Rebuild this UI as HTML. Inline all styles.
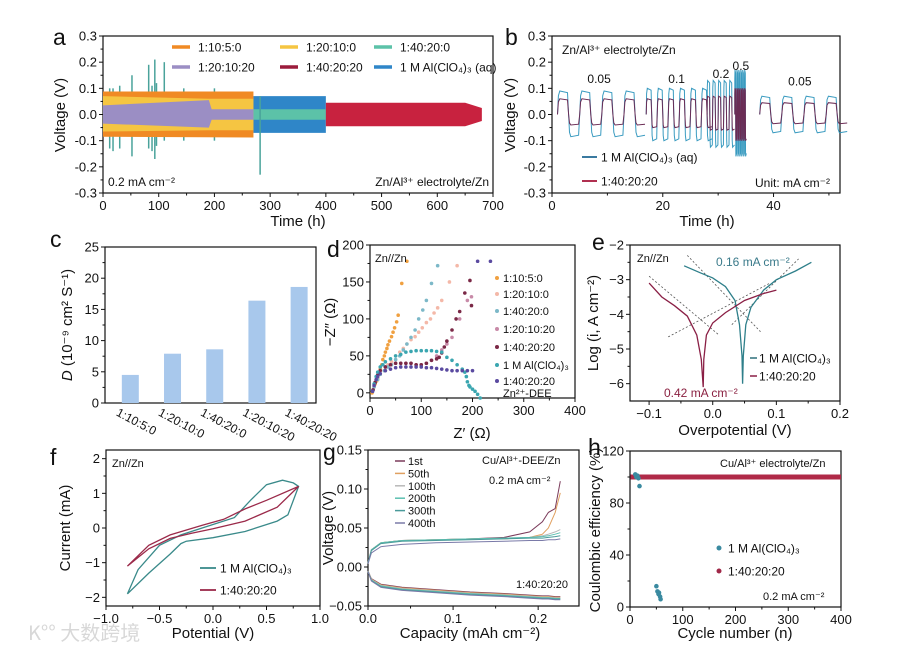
<!DOCTYPE html>
<html><head><meta charset="utf-8">
<style>
html,body{margin:0;padding:0;background:#fff;}
svg{display:block;font-family:"Liberation Sans","Noto Sans CJK SC",sans-serif;}
.tk{font-size:13px;fill:#111;}
.tt{font-size:15px;fill:#111;}
.an{font-size:12px;fill:#111;}
.lg{font-size:12px;fill:#111;}
.pl{font-size:23px;fill:#111;}
</style></head>
<body>
<svg id="fig" width="900" height="650" viewBox="0 0 900 650" xmlns="http://www.w3.org/2000/svg">
<text x="28" y="640" style="font-size:20px;fill:#d8d8d8;font-family:'Noto Sans CJK SC',sans-serif">K°° 大数跨境</text>
</svg>
<script>
// ---------- panel a data ----------
const aT_orange=[0,270]; const aHi_orange=[0.088,0.088]; const aLo_orange=[-0.085,-0.088];
const aT_yellow=[0,190,270]; const aHi_yellow=[0.07,0.06,0.06]; const aLo_yellow=[-0.065,-0.06,-0.06];
const aT_purple=[0,190,195,270]; const aHi_purple=[0.035,0.055,0.02,0.02]; const aLo_purple=[-0.035,-0.05,-0.02,-0.02];
const aT_blue=[270,400]; const aHi_blue=[0.07,0.07]; const aLo_blue=[-0.07,-0.07];
const aT_teal=[270,400]; const aHi_teal=[0.02,0.02]; const aLo_teal=[-0.02,-0.02];
const aT_red=[400,650,680]; const aHi_red=[0.045,0.045,0.025]; const aLo_red=[-0.045,-0.045,-0.025];
const aSpikeT=[12,18,30,52,82,88,93,96,110,145,200,282];
const aSpikeHi=[0.1,0.1,0.11,0.15,0.19,0.11,0.21,0.12,0.2,0.1,0.1,0.07];
const aSpikeLo=[-0.13,-0.14,-0.13,-0.16,-0.13,-0.14,-0.17,-0.12,-0.1,-0.1,-0.1,-0.23];
// ---------- panel b data ----------
const bSegStart=[1,17,28,33,37.5]; const bSegEnd=[16,28,33,35.2,52];
const bPeriod=[4,2,1,0.35,4];
const bBlueHi=[0.09,0.1,0.13,0.17,0.07]; const bBlueLo=[-0.085,-0.1,-0.125,-0.16,-0.07];
const bRedHi=[0.06,0.06,0.07,0.1,0.045]; const bRedLo=[-0.04,-0.05,-0.06,-0.1,-0.035];
const bRateLabels=["0.05","0.1","0.2","0.5","0.05"];
// ---------- panel c data ----------
const cCats=["1:10:5:0","1:20:10:0","1:40:20:0","1:20:10:20","1:40:20:20"];
const cVals=[4.5,7.9,8.6,16.4,18.6];
// ---------- panel d data ----------
const dX1=[4,6,8,10,13,15,18,20,23,25,28,30,33,35,38,42,45,48,52,55,62,72]; const dY1=[0,4,8,12,16,20,26,32,38,45,50,55,60,65,70,76,82,88,96,105,148,178];
const dX2=[8,15,20,28,35,42,50,58,65,72,80,88,95,102,110,118,125,132,140,155,170]; const dY2=[8,18,25,30,38,42,50,55,60,66,72,76,82,88,95,100,108,115,125,150,172];
const dX3=[8,15,20,28,35,42,50,58,65,72,80,88,95,103,110,120,132]; const dY3=[8,18,25,30,35,38,45,50,58,66,75,85,100,112,125,148,172];
const dX4=[6,10,15,20,30,40,50,60,70,80,90,100,110,120,130,140,150,160,175,190,198]; const dY4=[4,14,24,30,35,38,40,40,40,40,38,38,40,44,50,58,66,75,100,125,130];
const dX5=[6,10,15,20,30,40,50,60,70,80,90,100,110,120,130,135,140,145,150,160,168,175,185,195,198]; const dY5=[4,14,24,30,35,38,40,40,40,40,38,38,40,44,46,48,54,62,70,85,100,110,135,152,118];
const dX6=[5,8,12,15,20,25,30,40,50,60,70,80,90,100,110,120,130,140,150,160,170,180,185,188,190,193,195,200,205,210,215]; const dY6=[2,12,22,28,35,38,42,46,50,52,55,56,57,57,57,57,56,55,48,44,38,32,28,22,15,10,8,5,2,-2,-7];
const dX7=[5,8,12,15,20,30,40,50,60,70,80,90,100,110,120,130,140,150,160,170,180,190,200,210,235]; const dY7=[2,10,18,22,26,30,32,34,35,35,35,35,35,34,34,33,32,31,30,30,30,30,30,178,178];
// ---------- panel e data ----------
const eBlueX=[-0.045,-0.02,0,0.02,0.035,0.042,0.046,0.047,0.048,0.052,0.06,0.08,0.1,0.13,0.155];
const eBlueY=[-2.6,-2.8,-2.95,-3.2,-3.6,-4.3,-5.2,-6.0,-5.2,-4.3,-3.8,-3.3,-3.0,-2.75,-2.5];
const eRedX=[-0.1,-0.08,-0.06,-0.04,-0.025,-0.018,-0.016,-0.015,-0.014,-0.01,0,0.02,0.05,0.08,0.1];
const eRedY=[-3.1,-3.5,-3.75,-4.05,-4.6,-5.3,-5.8,-6.1,-5.3,-4.6,-4.25,-3.95,-3.6,-3.4,-3.3];
const eDashX1=[[-0.04,0.075],[0.03,0.135],[-0.1,0.01],[-0.07,0.09]];
const eDashY1=[[-2.3,-4.5],[-4.3,-2.4],[-2.9,-4.6],[-4.65,-3.1]];
// ---------- panel f data ----------
const fBlueX=[-0.8,-0.6,-0.4,-0.3,-0.25,0,0.3,0.6,0.7,0.8,0.75,0.65,0.5,0.35,0.2,0,-0.3,-0.5,-0.7,-0.8];
const fBlueY=[-1.9,-1.3,-0.75,-0.45,-0.38,-0.28,-0.1,0.2,0.38,1.2,1.3,1.38,1.25,0.8,0.3,0.1,-0.2,-0.5,-1.2,-1.9];
const fRedX=[-0.8,-0.6,-0.4,-0.2,0,0.3,0.6,0.8,0.5,0.3,0.1,-0.1,-0.4,-0.6,-0.8];
const fRedY=[-1.1,-0.6,-0.3,-0.15,-0.02,0.2,0.6,1.2,0.8,0.55,0.25,0.08,-0.2,-0.5,-1.1];
// ---------- panel g data ----------
const gCap=[0,0.004,0.015,0.04,0.08,0.12,0.16,0.19,0.205,0.212,0.22,0.226];
const gNames=["1st","50th","100th","200th","300th","400th"];
const gC1=[0.005,0.022,0.031,0.034,0.035,0.036,0.038,0.045,0.058,0.07,0.075,0.11];
const gC50=[0.005,0.022,0.031,0.034,0.035,0.036,0.036,0.038,0.042,0.05,0.07,0.095];
const gC100=[0.005,0.022,0.031,0.034,0.035,0.036,0.037,0.038,0.04,0.042,0.045,0.048];
const gC200=[0.005,0.022,0.031,0.034,0.035,0.036,0.037,0.038,0.039,0.04,0.042,0.044];
const gC300=[0.005,0.021,0.03,0.033,0.034,0.035,0.036,0.037,0.037,0.038,0.039,0.04];
const gC400=[0.004,0.018,0.026,0.029,0.031,0.032,0.033,0.034,0.034,0.035,0.035,0.036];
const gD1=[-0.005,-0.015,-0.022,-0.026,-0.029,-0.032,-0.034,-0.036,-0.037,-0.037,-0.038,-0.038];
const gD400=[-0.006,-0.018,-0.026,-0.03,-0.033,-0.036,-0.038,-0.04,-0.041,-0.041,-0.042,-0.042];
// ---------- panel h data ----------
const hRedN=[1,400]; const hRedV=[100,100];
const hBlueN=[10,12,14,16,18,50,52,54,55,57,58]; const hBlueV=[102,100,101,99,93,16,12,10,11,8,6];

const NS="http://www.w3.org/2000/svg";
const svg=document.getElementById('fig');
function mk(tag,attrs,parent,text){const e=document.createElementNS(NS,tag);for(const k in attrs)e.setAttribute(k,attrs[k]);if(text!==undefined)e.textContent=text;(parent||svg).appendChild(e);return e;}
function grp(name){const g=mk('g',{});return g;}
function axes(name,fr,xr,yr,xt,yt,xfmt,yfmt,xminor,yminor){
  const g=grp(name);
  const sx=v=>fr[0]+(v-xr[0])/(xr[1]-xr[0])*(fr[1]-fr[0]);
  const sy=v=>fr[3]-(v-yr[0])/(yr[1]-yr[0])*(fr[3]-fr[2]);
  const r=mk('rect',{x:fr[0],y:fr[2],width:fr[1]-fr[0],height:fr[3]-fr[2],fill:'none',stroke:'#111','stroke-width':1.2},g);
  
  
  xt.forEach(v=>{const x=sx(v);mk('line',{x1:x,x2:x,y1:fr[3],y2:fr[3]+4,stroke:'#111'},g);
    if(xfmt){const t=mk('text',{x:x,y:fr[3]+17,'text-anchor':'middle',class:'tk'},g,xfmt(v));}});
  (xminor||[]).forEach(v=>{const x=sx(v);mk('line',{x1:x,x2:x,y1:fr[3],y2:fr[3]+2.5,stroke:'#111'},g);});
  yt.forEach(v=>{const y=sy(v);mk('line',{x1:fr[0]-4,x2:fr[0],y1:y,y2:y,stroke:'#111'},g);
    const t=mk('text',{x:fr[0]-6,y:y+4.5,'text-anchor':'end',class:'tk'},g,yfmt(v));});
  (yminor||[]).forEach(v=>{const y=sy(v);mk('line',{x1:fr[0]-2.5,x2:fr[0],y1:y,y2:y,stroke:'#111'},g);});
  return {g,sx,sy};
}
function txt(x,y,s,cls,name,extra){const t=mk('text',Object.assign({x:x,y:y,class:cls},extra||{}),svg);t.innerHTML=s;return t;}
function ytitle(x,y,s,name){return txt(0,0,s,'tt',name,{transform:`translate(${x},${y}) rotate(-90)`,'text-anchor':'middle'});}
function poly(g,xs,ys,A,attrs,name){const pts=xs.map((v,i)=>A.sx(v).toFixed(1)+','+A.sy(ys[i]).toFixed(1)).join(' ');const p=mk('polyline',Object.assign({points:pts,fill:'none'},attrs),g);return p;}
function band(g,ts,hi,lo,A,fill,name){const up=ts.map((t,i)=>A.sx(t)+','+A.sy(hi[i]));const dn=ts.map((t,i)=>A.sx(t)+','+A.sy(lo[i])).reverse();const p=mk('polygon',{points:up.concat(dn).join(' '),fill:fill},g);}
const fmt1=v=>v.toFixed(1), fmt0=v=>String(v), fmt2=v=>v.toFixed(2);
const minus=s=>s.replace('-','\u2212');

// ================= panel a =================
txt(53,45,'a','pl','panel-label-a');
const A=axes('panel-a',[103,493,36,193],[0,700],[-0.3,0.3],[0,100,200,300,400,500,600,700],[-0.3,-0.2,-0.1,0,0.1,0.2,0.3],fmt0,fmt1,[50,150,250,350,450,550,650],[-0.25,-0.15,-0.05,0.05,0.15,0.25]);
band(A.g,aT_blue,aHi_blue,aLo_blue,A,'#2f86c8','band-1m-aq');
band(A.g,aT_teal,aHi_teal,aLo_teal,A,'#5cc2a8','band-1-40-20-0');
aSpikeT.forEach((t,i)=>{const l=mk('line',{x1:A.sx(t),x2:A.sx(t),y1:A.sy(aSpikeHi[i]),y2:A.sy(aSpikeLo[i]),stroke:'#4aa39b','stroke-width':1.5},A.g);});
band(A.g,aT_orange,aHi_orange,aLo_orange,A,'#f08a24','band-1-10-5-0');
band(A.g,aT_yellow,aHi_yellow,aLo_yellow,A,'#f5c542','band-1-20-10-0');
band(A.g,aT_purple,aHi_purple,aLo_purple,A,'#9b8ec4','band-1-20-10-20');
band(A.g,aT_red,aHi_red,aLo_red,A,'#c8223f','band-1-40-20-20');
[['1:10:5:0','#f08a24',172,47],['1:20:10:0','#f5c542',280,47],['1:40:20:0','#5cc2a8',374,47],['1:20:10:20','#9b8ec4',172,67],['1:40:20:20','#9b1c3c',280,67],['1 M Al(ClO₄)₃ (aq)','#2f86c8',374,67]].forEach(e=>{
  const l=mk('line',{x1:e[2],x2:e[2]+18,y1:e[3],y2:e[3],stroke:e[1],'stroke-width':3.5});
  txt(e[2]+26,e[3]+4.5,e[0],'lg','legend-entry');});
txt(108,186,'0.2 mA cm⁻²','an','current-density-note');
txt(489,186,'Zn/Al³⁺ electrolyte/Zn','an','cell-note',{'text-anchor':'end'});
ytitle(65,115,'Voltage (V)','y-axis-title-a');
txt(298,226,'Time (h)','tt','x-axis-title-a',{'text-anchor':'middle'});

// ================= panel b =================
txt(505,45,'b','pl','panel-label-b');
const B=axes('panel-b',[552,840,36,193],[0,52],[-0.3,0.3],[0,20,40],[-0.3,-0.2,-0.1,0,0.1,0.2,0.3],fmt0,fmt1,[10,30,50],[-0.25,-0.15,-0.05,0.05,0.15,0.25]);
function wave(hiArr,loArr){const xs=[],ys=[];
  bSegStart.forEach((s,k)=>{const P=bPeriod[k];for(let t=s;t+P/2<=bSegEnd[k]+0.01;t+=P){
    xs.push(t,t+0.04*P,t+0.1*P,t+0.45*P,t+0.5*P,t+0.54*P,t+0.6*P,t+0.95*P);
    ys.push(0,hiArr[k]*0.8,hiArr[k],hiArr[k]*0.93,0,loArr[k]*0.8,loArr[k],loArr[k]*0.93);}
    xs.push(NaN);ys.push(NaN);});
  return [xs,ys];}
function polySeg(g,xs,ys,A,attrs,name){let cx=[],cy=[];for(let i=0;i<=xs.length;i++){if(i==xs.length||isNaN(xs[i])){if(cx.length)poly(g,cx,cy,A,attrs,name);cx=[];cy=[];}else{cx.push(xs[i]);cy.push(ys[i]);}}}
let wb=wave(bBlueHi,bBlueLo); polySeg(B.g,wb[0],wb[1],B,{stroke:'#3a9bc0','stroke-width':1},'series-1m-aq');
let wr=wave(bRedHi,bRedLo); polySeg(B.g,wr[0],wr[1],B,{stroke:'#6b2c55','stroke-width':1},'series-1-40-20-20');
const bLabY=[0.12,0.12,0.14,0.17,0.11];
bRateLabels.forEach((s,k)=>txt(B.sx((bSegStart[k]+bSegEnd[k])/2),B.sy(bLabY[k]),s,'an','rate-label',{'text-anchor':'middle'}));
txt(562,54,'Zn/Al³⁺ electrolyte/Zn','an','cell-note-b');
[['1 M Al(ClO₄)₃ (aq)','#3a7aa0',157],['1:40:20:20','#b03050',181]].forEach(e=>{
  const l=mk('line',{x1:582,x2:597,y1:e[2],y2:e[2],stroke:e[1],'stroke-width':2});
  txt(601,e[2]+4.5,e[0],'lg','legend-entry');});
txt(830,187,'Unit: mA cm⁻²','an','unit-note',{'text-anchor':'end'});
ytitle(515,115,'Voltage (V)','y-axis-title-b');
txt(707,226,'Time (h)','tt','x-axis-title-b',{'text-anchor':'middle'});

// ================= panel c =================
txt(50,247,'c','pl','panel-label-c');
const C=axes('panel-c',[105,316,247,403],[0,5],[0,25],[],[0,5,10,15,20,25],null,fmt0,[],[2.5,7.5,12.5,17.5,22.5]);
cVals.forEach((v,i)=>{const cx=C.sx(i+0.6);const r=mk('rect',{x:cx-8.5,y:C.sy(v),width:17,height:C.sy(0)-C.sy(v),fill:'#a8c8ec'},C.g);
  txt(0,0,cCats[i],'tk','x-tick-label-c',{transform:`translate(${cx-15},${415}) rotate(28)`,style:'font-size:12px'});});
ytitle(72,325,'<tspan font-style="italic">D</tspan> (10⁻⁹ cm² S⁻¹)','y-axis-title-c');

// ================= panel d =================
txt(327,257,'d','pl','panel-label-d');
const D=axes('panel-d',[370,575,245,398],[0,400],[-7,200],[0,100,200,300,400],[0,50,100,150,200],fmt0,fmt0,[50,150,250,350],[25,75,125,175]);
const dSeries=[[dX1,dY1,'#f0a040','1:10:5:0'],[dX2,dY2,'#f4b8a8','1:20:10:0'],[dX3,dY3,'#7cb8c8','1:40:20:0'],[dX4,dY4,'#c88aa8','1:20:10:20'],[dX5,dY5,'#7a2846','1:40:20:20'],[dX6,dY6,'#3aa6b0','1 M Al(ClO₄)₃'],[dX7,dY7,'#5a4aa0','1:40:20:20 Zn²⁺-DEE']];
dSeries.forEach(s=>{s[0].forEach((x,i)=>{const c=mk('circle',{cx:D.sx(x),cy:D.sy(s[1][i]),r:1.8,fill:s[2]},D.g);});});
const dLegY=[278,294,311,329,347,365,381];
dSeries.forEach((s,i)=>{const c=mk('circle',{cx:497,cy:dLegY[i],r:2,fill:s[2]},D.g);
  txt(503,dLegY[i]+4,s[3].split(' Zn')[0],'lg','legend-entry',{style:'font-size:11px'});});
txt(503,397,'Zn²⁺-DEE','lg','legend-entry',{style:'font-size:11px'});
txt(375,262,'Zn//Zn','an','cell-note-d',{style:'font-size:11px'});
ytitle(335,322,'\u2212Z″ (Ω)','y-axis-title-d');
txt(472,438,'Z′ (Ω)','tt','x-axis-title-d',{'text-anchor':'middle'});

// ================= panel e =================
txt(592,250,'e','pl','panel-label-e');
const E=axes('panel-e',[630,840,245,401],[-0.13,0.2],[-6.5,-2],[-0.1,0,0.1,0.2],[-6,-5,-4,-3,-2],v=>minus(v.toFixed(1)),v=>minus(String(v)),[-0.05,0.05,0.15],[-5.5,-4.5,-3.5,-2.5]);
eDashX1.forEach((xs,i)=>poly(E.g,xs,eDashY1[i],E,{stroke:'#555','stroke-width':0.8,'stroke-dasharray':'2,2'},'tafel-fit-line'));
poly(E.g,eBlueX,eBlueY,E,{stroke:'#2e7f8a','stroke-width':1.3},'series-1m');
poly(E.g,eRedX,eRedY,E,{stroke:'#8a1f45','stroke-width':1.3},'series-1-40-20-20');
txt(637,262,'Zn//Zn','an','cell-note-e',{style:'font-size:11px'});
txt(716,266,'0.16 mA cm⁻²','an','icorr-blue',{style:'font-size:12px;fill:#3a7a8a'});
txt(664,397,'0.42 mA cm⁻²','an','icorr-red',{style:'font-size:12px;fill:#8a2040'});
[['1 M Al(ClO₄)₃','#2e6f7a',358],['1:40:20:20','#8a1f45',376]].forEach(e=>{
  const l=mk('line',{x1:750,x2:757,y1:e[2],y2:e[2],stroke:e[1],'stroke-width':1.5});
  txt(759,e[2]+4.5,e[0],'lg','legend-entry');});
ytitle(598,323,'Log (i, A cm⁻²)','y-axis-title-e');
txt(735,435,'Overpotential (V)','tt','x-axis-title-e',{'text-anchor':'middle'});

// ================= panel f =================
txt(50,465,'f','pl','panel-label-f');
const F=axes('panel-f',[106,320,450,606],[-1,1],[-2.25,2.25],[-1,-0.5,0,0.5,1],[-2,-1,0,1,2],v=>minus(v.toFixed(1)),v=>minus(String(v)),[-0.75,-0.25,0.25,0.75],[-1.5,-0.5,0.5,1.5]);
poly(F.g,fBlueX,fBlueY,F,{stroke:'#3a8a8a','stroke-width':1.3},'series-1m');
poly(F.g,fRedX,fRedY,F,{stroke:'#9b2a4a','stroke-width':1.3},'series-1-40-20-20');
txt(112,467,'Zn//Zn','an','cell-note-f',{style:'font-size:11px'});
[['1 M Al(ClO₄)₃','#3a8a8a',568],['1:40:20:20','#9b2a4a',590]].forEach(e=>{
  const l=mk('line',{x1:200,x2:216,y1:e[2],y2:e[2],stroke:e[1],'stroke-width':1.8});
  txt(220,e[2]+4.5,e[0],'lg','legend-entry');});
ytitle(70,528,'Current (mA)','y-axis-title-f');
txt(213,638,'Potential (V)','tt','x-axis-title-f',{'text-anchor':'middle'});

// ================= panel g =================
txt(323,460,'g','pl','panel-label-g');
const G=axes('panel-g',[368,579,450,606],[0,0.248],[-0.05,0.15],[0,0.1,0.2],[-0.05,0,0.05,0.1,0.15],fmt1,v=>minus(fmt2(v)),[0.05,0.15],[-0.025,0.025,0.075,0.125]);
const gCol=['#7a3a5a','#e0a060','#b8b8b8','#5bc0b0','#4a9a9a','#7a7aa8'];
const gCh=[gC1,gC50,gC100,gC200,gC300,gC400];
gCh.forEach((arr,k)=>{poly(G.g,gCap,arr,G,{stroke:gCol[k],'stroke-width':1},'charge-'+gNames[k]);
  const dis=gD1.map((v,i)=>v+(gD400[i]-v)*k/5);
  poly(G.g,gCap,dis,G,{stroke:gCol[k],'stroke-width':1},'discharge-'+gNames[k]);});
gNames.forEach((n,k)=>{const y=461+k*12.4;const l=mk('line',{x1:395,x2:405,y1:y,y2:y,stroke:gCol[k],'stroke-width':1.5});
  txt(408,y+4,n,'lg','legend-entry',{style:'font-size:11px'});});
txt(482,464,'Cu/Al³⁺-DEE/Zn','an','cell-note-g',{style:'font-size:11px'});
txt(489,484,'0.2 mA cm⁻²','an','current-note-g',{style:'font-size:11px'});
txt(516,588,'1:40:20:20','an','electrolyte-note-g',{style:'font-size:11px'});
ytitle(333,528,'Voltage (V)','y-axis-title-g');
txt(470,638,'Capacity (mAh cm⁻²)','tt','x-axis-title-g',{'text-anchor':'middle'});

// ================= panel h =================
txt(588,455,'h','pl','panel-label-h');
const H=axes('panel-h',[630,841,451,607],[0,400],[0,120],[0,100,200,300,400],[0,40,80,120],fmt0,fmt0,[50,150,250,350],[20,60,100]);
poly(H.g,hRedN,hRedV,H,{stroke:'#b02a48','stroke-width':5},'series-1-40-20-20');
hBlueN.forEach((n,i)=>{const c=mk('circle',{cx:H.sx(n),cy:H.sy(hBlueV[i]),r:2.3,fill:'#3a8aa0'},H.g);});
txt(720,467,'Cu/Al³⁺ electrolyte/Zn','an','cell-note-h',{style:'font-size:11px'});
[['1 M Al(ClO₄)₃','#3a8aa0',548],['1:40:20:20','#a02848',571]].forEach(e=>{
  const c=mk('circle',{cx:719,cy:e[2],r:2.5,fill:e[1]});
  txt(728,e[2]+4.5,e[0],'lg','legend-entry');});
txt(763,600,'0.2 mA cm⁻²','an','current-note-h',{style:'font-size:11px'});
ytitle(600,530,'Coulombic efficiency (%)','y-axis-title-h');
txt(735,638,'Cycle number (n)','tt','x-axis-title-h',{'text-anchor':'middle'});
</script>
</body></html>
